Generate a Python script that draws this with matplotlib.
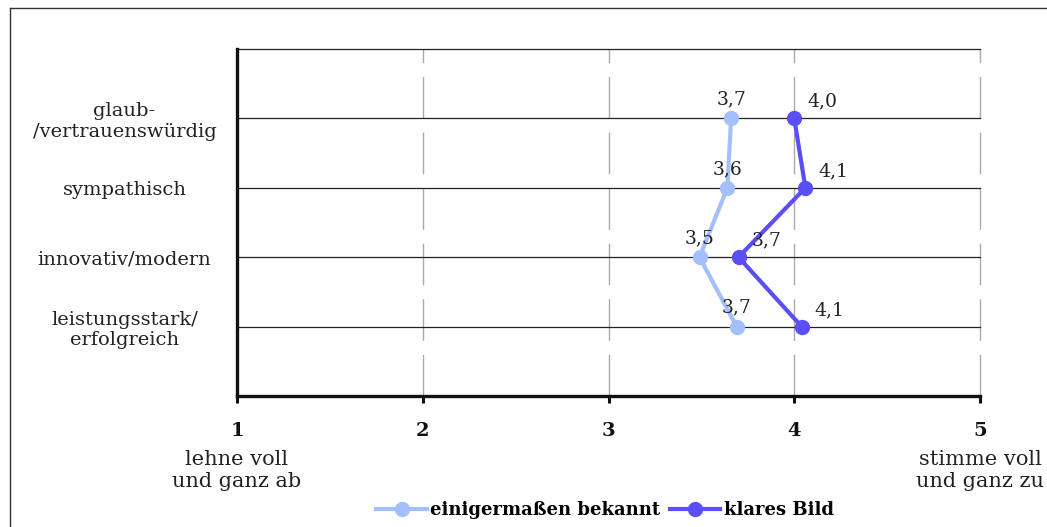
import numpy as np
import matplotlib
matplotlib.use('Agg')
import matplotlib.pyplot as plt
from matplotlib.lines import Line2D

categories = ['glaub-\n/vertrauenswürdig', 'sympathisch', 'innovativ/modern',
              'leistungsstark/\nerfolgreich']
bekannt = [3.66, 3.64, 3.49, 3.69]
bekannt_labels = ['3,7', '3,6', '3,5', '3,7']
klar = [4.00, 4.06, 3.70, 4.04]
klar_labels = ['4,0', '4,1', '3,7', '4,1']
series_names = ['einigermaßen bekannt', 'klares Bild']
xticks = [1, 2, 3, 4, 5]

light = '#a4bffd'
dark = '#5a4ff6'
font = 'DejaVu Serif'
plt.rcParams['font.family'] = font

fig = plt.figure(figsize=(10.47, 5.27), dpi=100)
ax = fig.add_axes([237/1047, 1-396/527, (980-237)/1047, (396-49)/527])

ypos = np.arange(len(categories), 0, -1)

ax.plot(bekannt, ypos, color=light, lw=3, marker='o', ms=10, zorder=3,
        label=series_names[0])
ax.plot(klar, ypos, color=dark, lw=3, marker='o', ms=10, zorder=3,
        label=series_names[1])

# value labels
for x, y, t in zip(bekannt, ypos, bekannt_labels):
    ax.annotate(t, (x, y), xytext=(0, 13.5), textcoords='offset points',
                ha='center', va='center', fontsize=13.5, color='#222222')
for x, y, t in zip(klar, ypos, klar_labels):
    ax.annotate(t, (x, y), xytext=(20, 12), textcoords='offset points',
                ha='center', va='center', fontsize=13.5, color='#222222')

ax.set_xlim(1, 5)
ax.set_ylim(0, 5)
ax.set_xticks(xticks)
ax.set_xticklabels([str(v) for v in xticks], fontweight='bold', fontsize=14)
ax.tick_params(axis='x', length=5, width=2.2, pad=14, colors='#111111')

ax.set_yticks(list(ypos) + [5])
ax.set_yticklabels(categories + [''], fontsize=14, color='#222222')
for lab in ax.get_yticklabels():
    lab.set_horizontalalignment('center')
    lab.set_multialignment('center')
ax.tick_params(axis='y', length=0, pad=81)

ax.grid(axis='y', color='#222222', lw=0.9)
ax.grid(axis='x', color='#aaaaaa', lw=1, linestyle=(0, (30, 10)))
for gl in ax.get_xgridlines() + ax.get_ygridlines():
    gl.set_clip_on(False)
ax.set_axisbelow(True)

for s in ['top', 'right']:
    ax.spines[s].set_visible(False)
for s in ['left', 'bottom']:
    ax.spines[s].set_linewidth(2.4)
    ax.spines[s].set_color('#111111')

ax.text(1, -1.07, 'lehne voll\nund ganz ab', ha='center', va='center',
        fontsize=15, color='#222222', linespacing=1.2)
ax.text(5, -1.07, 'stimme voll\nund ganz zu', ha='center', va='center',
        fontsize=15, color='#222222', linespacing=1.2, clip_on=False)

fig.legend(loc='center', bbox_to_anchor=(605/1047, 1-510/527), ncol=2,
           frameon=False, handlelength=2.8, handletextpad=0.2,
           columnspacing=0.5, prop={'family': font, 'weight': 'bold', 'size': 13})

# outer frame of the original figure
fig.add_artist(Line2D([10/1047, 10/1047], [-0.1, 1-8/527], color='#333333', lw=1))
fig.add_artist(Line2D([10/1047, 1.1], [1-8/527, 1-8/527], color='#333333', lw=1))

fig.savefig('out.png', dpi=100)
